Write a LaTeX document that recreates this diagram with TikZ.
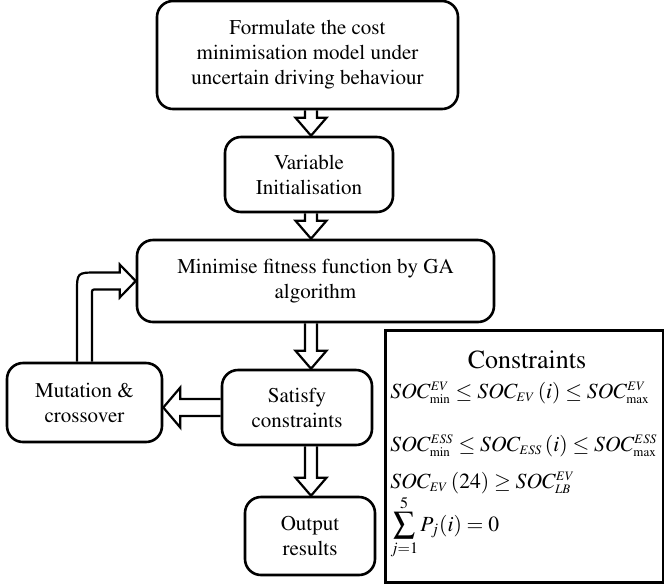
\documentclass[tikz,border=0pt]{standalone}
\usepackage[T1]{fontenc}
\usepackage{mathptmx}
\usetikzlibrary{calc,backgrounds}
\tikzstyle{flowbox}=[draw, rounded corners=8pt, line width=1.3pt, align=center, inner sep=0pt, font=\fontsize{10.5}{12.5}\selectfont]
\tikzstyle{consbox}=[draw, line width=1.5pt, inner sep=0pt]
\tikzstyle{blockarrow}=[draw, fill=white, line width=1.1pt, line join=miter]
\tikzstyle{mathline}=[anchor=west, inner sep=0pt, font=\fontsize{10.8}{13}\selectfont]
\newcommand{\flowdown}[2]{%
  \filldraw[blockarrow] ($(#1.south -| spine)+(-6,0)$) -- ($(#2.north -| spine)+(-6,-18)$)
    -- ($(#2.north -| spine)+(-15.5,-18)$) -- (#2.north -| spine) -- ($(#2.north -| spine)+(15.5,-18)$)
    -- ($(#2.north -| spine)+(6,-18)$) -- ($(#1.south -| spine)+(6,0)$);}

\begin{document}
\begin{tikzpicture}[x=0.5pt, y=-0.5pt]
	\useasboundingbox (0,0) rectangle (664,586);
	\coordinate (spine) at (311,0);
	% flow boxes
	\node[flowbox, minimum width=150.5pt, minimum height=54pt] (form) at (307.5,55)
		{Formulate the cost\\ minimisation model under\\ uncertain driving behaviour};
	\node[flowbox, minimum width=84pt, minimum height=37.5pt] (var) at (309,174.5)
		{Variable\\ Initialisation};
	\node[flowbox, minimum width=178.5pt, minimum height=41pt] (mini) at (315.5,281)
		{Minimise fitness function by GA\\ algorithm};
	\node[flowbox, minimum width=75pt, minimum height=37.5pt] (sat) at (297,407.5)
		{Satisfy\\ constraints};
	\node[flowbox, minimum width=65pt, minimum height=39pt] (out) at (310,536)
		{Output\\ results};
	\node[flowbox, minimum width=77.5pt, minimum height=39.5pt] (mut) at (84.5,402.5)
		{Mutation \&\\ crossover};
	% constraints panel
	\node[consbox, minimum width=139pt, minimum height=126pt] (cons) at (524,456) {};
	\node[font=\fontsize{13}{15}\selectfont, inner sep=0pt] (ctitle) at (527,360) {Constraints};
	\node[mathline] (c1) at (390,393) {$SOC_{\scriptscriptstyle\min}^{\scriptscriptstyle EV}\le SOC_{\scriptscriptstyle EV}\left(i\right)\le SOC_{\scriptscriptstyle\max}^{\scriptscriptstyle EV}$};
	\node[mathline] (c2) at (390,446) {$SOC_{\scriptscriptstyle\min}^{\scriptscriptstyle ESS}\le SOC_{\scriptscriptstyle ESS}\left(i\right)\le SOC_{\scriptscriptstyle\max}^{\scriptscriptstyle ESS}$};
	\node[mathline] (c3) at (390,483) {$SOC_{\scriptscriptstyle EV}\left(24\right)\ge SOC_{\scriptscriptstyle LB}^{\scriptscriptstyle EV}$};
	\node[mathline] (c4) at (390,527) {$\displaystyle\sum_{j=1}^{5} P_j(i) = 0$};
	% block arrows
	\begin{scope}[on background layer]
		\flowdown{form}{var}
		\flowdown{var}{mini}
		\flowdown{mini}{sat}
		\flowdown{sat}{out}
		\filldraw[blockarrow] ($(sat.west)+(0,-8.5)$) -- ($(mut.east |- sat.west)+(17,-8.5)$)
			-- ($(mut.east |- sat.west)+(17,-20)$) -- (mut.east |- sat.west)
			-- ($(mut.east |- sat.west)+(17,20)$) -- ($(mut.east |- sat.west)+(17,8.5)$) -- ($(sat.west)+(0,8.5)$);
		\coordinate (loopc) at (mut.north |- mini.west);
		\filldraw[blockarrow] ($(mut.north)+(-7.5,0)$) -- ($(loopc)+(-7.5,11.5)$)
			.. controls ($(loopc)+(-7.5,-8.5)$) .. ($(loopc)+(12.5,-8.5)$)
			-- ($(mini.west)+(-16,-8.5)$) -- ($(mini.west)+(-16,-16.5)$) -- (mini.west)
			-- ($(mini.west)+(-16,16.5)$) -- ($(mini.west)+(-16,8.5)$) -- ($(loopc)+(12,8.5)$)
			.. controls ($(loopc)+(7.5,8.5)$) .. ($(loopc)+(7.5,13)$) -- ($(mut.north)+(7.5,0)$);
	\end{scope}
\end{tikzpicture}
\end{document}
